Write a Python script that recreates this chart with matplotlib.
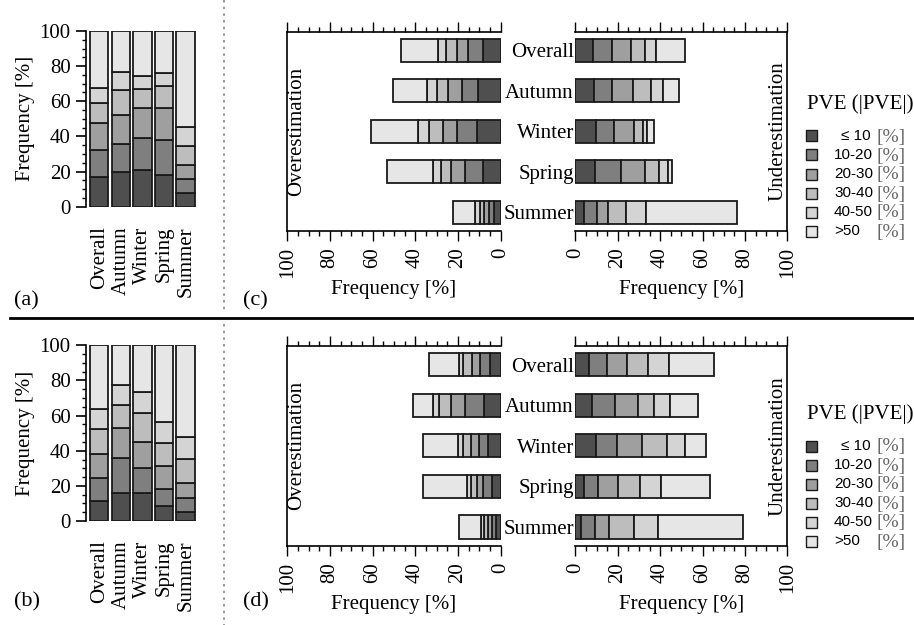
import numpy as np
import matplotlib
matplotlib.use("Agg")
import matplotlib.pyplot as plt
from matplotlib.patches import Rectangle
from matplotlib.lines import Line2D
from matplotlib.ticker import MultipleLocator

plt.rcParams['font.family'] = ['Liberation Serif', 'DejaVu Serif']
plt.rcParams['font.size'] = 15

seasons = ["Overall", "Autumn", "Winter", "Spring", "Summer"]
classes = ["\u2264 10", "10-20", "20-30", "30-40", "40-50", ">50"]
colors = ["#4f4f4f", "#7f7f7f", "#9f9f9f", "#bdbdbd", "#d4d4d4", "#e6e6e6"]

# segment frequencies [%] per season, order: <=10, 10-20, 20-30, 30-40, 40-50, >50
a_overall = [16.7, 15.7, 15.0, 11.8, 8.5, 32.3]
a_autumn = [19.5, 16.4, 16.3, 14.0, 10.5, 23.3]
a_winter = [20.9, 18.0, 17.1, 11.0, 7.6, 25.4]
a_spring = [18.0, 20.1, 18.3, 12.5, 7.4, 23.7]
a_summer = [7.6, 8.1, 7.8, 11.2, 10.7, 54.6]

b_overall = [11.2, 13.1, 13.7, 14.2, 11.4, 36.4]
b_autumn = [15.7, 20.0, 17.4, 12.9, 11.2, 22.8]
b_winter = [15.7, 14.3, 15.2, 16.5, 11.7, 26.6]
b_spring = [8.7, 9.7, 13.1, 13.1, 11.8, 43.6]
b_summer = [4.9, 8.4, 8.5, 13.5, 12.5, 52.2]

c_over_overall = [8.1, 7.1, 5.4, 5.2, 3.6, 17.3]
c_over_autumn = [10.5, 7.5, 6.8, 5.2, 4.7, 15.6]
c_over_winter = [10.9, 9.4, 6.9, 6.4, 5.0, 22.2]
c_over_spring = [8.4, 8.2, 6.5, 5.0, 3.5, 21.8]
c_over_summer = [3.0, 2.3, 2.4, 2.0, 2.2, 10.6]

c_under_overall = [8.2, 9.0, 8.9, 6.8, 5.2, 13.7]
c_under_autumn = [9.0, 8.5, 9.5, 8.7, 5.8, 7.6]
c_under_winter = [9.7, 8.5, 9.5, 4.4, 1.9, 2.9]
c_under_spring = [9.4, 12.1, 11.5, 6.6, 4.0, 1.8]
c_under_summer = [4.2, 5.9, 5.2, 8.6, 9.4, 43.1]

d_over_overall = [5.0, 4.7, 3.9, 3.9, 1.9, 14.1]
d_over_autumn = [7.7, 8.9, 6.5, 5.6, 3.2, 9.4]
d_over_winter = [5.9, 4.3, 3.7, 3.9, 2.4, 16.4]
d_over_spring = [4.2, 4.0, 3.1, 2.6, 2.0, 20.4]
d_over_summer = [2.3, 1.9, 1.9, 1.6, 1.7, 10.0]

d_under_overall = [6.4, 8.4, 9.6, 10.0, 9.6, 21.4]
d_under_autumn = [8.0, 10.7, 10.7, 7.7, 7.4, 13.4]
d_under_winter = [9.7, 10.1, 11.5, 12.1, 8.5, 9.7]
d_under_spring = [4.2, 6.3, 9.8, 10.2, 10.1, 23.1]
d_under_summer = [2.8, 6.6, 6.6, 11.7, 11.3, 40.1]

W, H = 914, 625
fig = plt.figure(figsize=(W / 100, H / 100), dpi=100)


def rect(x0, y0, x1, y1):
    # pixel box (top-left origin) -> figure fraction
    return [x0 / W, 1 - y1 / H, (x1 - x0) / W, (y1 - y0) / H]


EDGE = "#1a1a1a"
FS = 15


def vertical_panel(box, data, letter, lpos):
    ax = fig.add_axes(rect(*box))
    data = np.array(data)
    x = np.arange(len(seasons))
    bottom = np.zeros(len(seasons))
    for k in range(len(classes)):
        ax.bar(x, data[:, k], 0.85, bottom=bottom, color=colors[k],
               edgecolor=EDGE, linewidth=1.3)
        bottom += data[:, k]
    ax.set_xlim(-0.61, 4.5)
    ax.set_ylim(0, 100)
    for s in ["top", "right", "bottom"]:
        ax.spines[s].set_visible(False)
    ax.spines["left"].set_linewidth(1.2)
    ax.yaxis.set_major_locator(MultipleLocator(20))
    ax.yaxis.set_minor_locator(MultipleLocator(5))
    ax.tick_params(axis="y", which="major", length=7, width=1.2, pad=4, labelsize=FS)
    ax.tick_params(axis="y", which="minor", length=3, width=1.0)
    ax.set_xticks(x)
    ax.set_xticklabels(seasons, rotation=90, va="top", ha="center")
    ax.tick_params(axis="x", length=0, pad=14, labelsize=FS)
    ax.set_ylabel("Frequency [%]", fontsize=FS, labelpad=3)
    fig.text(lpos[0] / W, 1 - lpos[1] / H, letter, fontsize=16, ha="left", va="baseline")
    return ax


vertical_panel((86, 31, 196.5, 206.7),
               [a_overall, a_autumn, a_winter, a_spring, a_summer], "(a)", (14, 305))
vertical_panel((86, 345.3, 196.5, 521),
               [b_overall, b_autumn, b_winter, b_spring, b_summer], "(b)", (14, 606))


def horiz_pair(ytop, ybot, over, under, letter, lpos, legend_top):
    y = np.arange(len(seasons))
    axl = fig.add_axes(rect(287.3, ytop, 500.7, ybot))
    axr = fig.add_axes(rect(575.3, ytop, 787.3, ybot))
    for ax, data, side in [(axl, over, "l"), (axr, under, "r")]:
        data = np.array(data)
        left = np.zeros(len(seasons))
        for k in range(len(classes)):
            ax.barh(y, data[:, k], 0.57, left=left, color=colors[k],
                    edgecolor=EDGE, linewidth=1.3)
            left += data[:, k]
        ax.set_ylim(4.46, -0.46)
        ax.set_xlim(0, 100)
        ax.xaxis.set_major_locator(MultipleLocator(20))
        ax.xaxis.set_minor_locator(MultipleLocator(5))
        ax.tick_params(axis="x", which="both", direction="out", top=True, bottom=True,
                       labeltop=False, labelbottom=True, width=1.0)
        ax.tick_params(axis="x", which="major", length=7, pad=5, labelsize=FS,
                       labelrotation=90)
        ax.tick_params(axis="x", which="minor", length=3.5)
        for s in ax.spines.values():
            s.set_linewidth(1.2)
        ax.set_xlabel("Frequency [%]", fontsize=FS, labelpad=1)
        if side == "l":
            ax.invert_xaxis()
            ax.spines["right"].set_visible(False)
            ax.set_yticks([])
            ax.text(0.045, 0.5, "Overestimation", transform=ax.transAxes,
                    rotation=90, ha="center", va="center", fontsize=FS)
        else:
            ax.spines["left"].set_visible(False)
            ax.set_yticks(y)
            ax.set_yticklabels(seasons)
            ax.tick_params(axis="y", length=0, pad=1, labelsize=FS)
            ax.text(0.958, 0.5, "Underestimation", transform=ax.transAxes,
                    rotation=90, ha="center", va="center", fontsize=FS)
    fig.text(lpos[0] / W, 1 - lpos[1] / H, letter, fontsize=16, ha="left", va="baseline")

    # legend
    fig.text(860 / W, 1 - legend_top / H, "PVE (|PVE|)", fontsize=FS,
             ha="center", va="center")
    for k, lab in enumerate(classes):
        yy = legend_top + 32 + 19 * k
        fig.patches.append(Rectangle((806 / W, 1 - (yy + 5.5) / H), 11 / W, 11 / H,
                                     transform=fig.transFigure, facecolor=colors[k],
                                     edgecolor=EDGE, linewidth=1.0))
        if k == 0:
            fig.text(871 / W, 1 - yy / H, lab, fontsize=11, ha="right", va="center",
                     family=["Liberation Sans", "DejaVu Sans"])
        else:
            fig.text(834 / W, 1 - yy / H, lab, fontsize=11, ha="left", va="center",
                     family=["Liberation Sans", "DejaVu Sans"])
        fig.text(877 / W, 1 - (yy + 1) / H, "[%]", fontsize=14, ha="left", va="center",
                 color="#666666")


horiz_pair(31.7, 230.7,
           [c_over_overall, c_over_autumn, c_over_winter, c_over_spring, c_over_summer],
           [c_under_overall, c_under_autumn, c_under_winter, c_under_spring, c_under_summer],
           "(c)", (243, 305), 104)
horiz_pair(346, 545.7,
           [d_over_overall, d_over_autumn, d_over_winter, d_over_spring, d_over_summer],
           [d_under_overall, d_under_autumn, d_under_winter, d_under_spring, d_under_summer],
           "(d)", (243, 606), 414)

# separators
fig.add_artist(Line2D([10 / W, 1.0], [1 - 318 / H, 1 - 318 / H], color="black",
                      linewidth=2.0, transform=fig.transFigure))
fig.add_artist(Line2D([223.5 / W, 223.5 / W], [1.0, 1 - 311 / H], color="#8a8a8a",
                      linewidth=1.2, linestyle=(0, (1.5, 2.5)), transform=fig.transFigure))
fig.add_artist(Line2D([223.5 / W, 223.5 / W], [1 - 324 / H, 0.0], color="#8a8a8a",
                      linewidth=1.2, linestyle=(0, (1.5, 2.5)), transform=fig.transFigure))

fig.savefig("out.png", dpi=100, facecolor="white")
